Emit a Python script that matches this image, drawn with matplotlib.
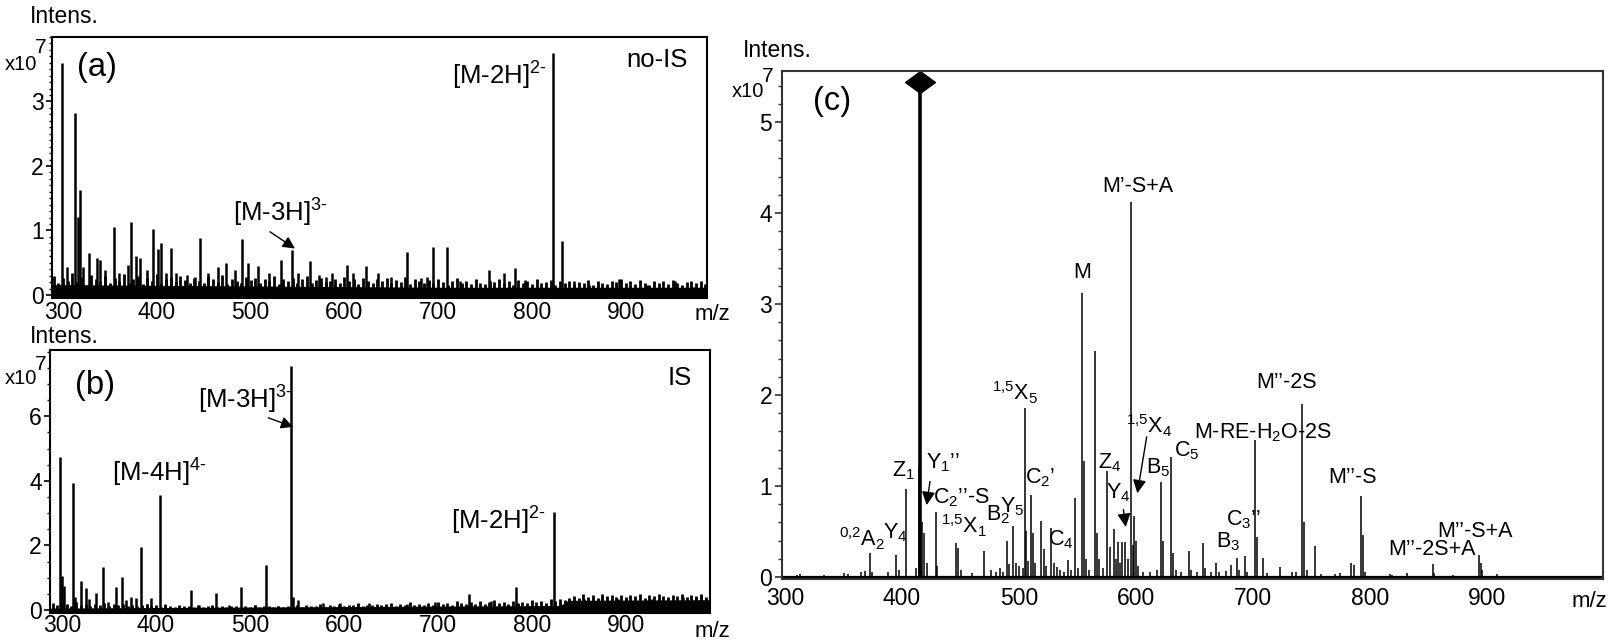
import numpy as np
import matplotlib
matplotlib.use("Agg")
import matplotlib.pyplot as plt
from matplotlib.ticker import MultipleLocator

plt.rcParams['font.family'] = ['Liberation Sans', 'DejaVu Sans']
plt.rcParams['mathtext.fontset'] = 'custom'
plt.rcParams['mathtext.rm'] = 'Liberation Sans'
plt.rcParams['mathtext.it'] = 'Liberation Sans:italic'
plt.rcParams['mathtext.bf'] = 'Liberation Sans:bold'
plt.rcParams['mathtext.default'] = 'regular'

W, H = 1615, 642

# ---- panel (a): no-IS, intensity x1e7 ----
a_mz = [298.7, 304.0, 313.0, 315.7, 318.4, 321.1, 327.4, 336.3, 339.9, 344.4,
        354.7, 360.1, 369.1, 372.7, 378.1, 382.5, 389.3, 396.5, 400.9, 404.5,
        409.9, 414.8, 420.7, 431.9, 440.9, 445.8, 454.3, 465.5, 473.6, 483.5,
        490.7, 497.0, 508.2, 519.4, 532.8, 544.0, 550.8, 563.3, 573.2, 579.9,
        586.7, 602.8, 609.1, 622.6, 636.0, 649.5, 666.5, 681.8, 687.6, 694.3,
        709.6, 723.5, 754.0, 770.6, 781.8, 793.0, 822.6, 832.5, 844.6, 860.3,
        892.6, 923.1, 952.3, 972.5]
a_int = [3.59, 0.44, 2.82, 1.21, 1.63, 0.44, 0.65, 0.57, 0.54, 0.39,
         1.05, 0.34, 0.47, 1.13, 0.60, 0.58, 0.39, 1.03, 0.71, 0.80,
         0.34, 0.73, 0.34, 0.31, 0.28, 0.89, 0.34, 0.44, 0.49, 0.39,
         0.87, 0.49, 0.45, 0.34, 0.54, 0.69, 0.34, 0.53, 0.31, 0.28,
         0.34, 0.47, 0.34, 0.45, 0.34, 0.28, 0.66, 0.26, 0.28, 0.74,
         0.74, 0.21, 0.38, 0.34, 0.42, 0.23, 3.75, 0.84, 0.21, 0.16,
         0.24, 0.16, 0.22, 0.13]
# baseline grass, one reading every 5 m/z from 290
a_noise = [.30, .18, .26, .22, .34, .20, .28, .16, .31, .24,
           .22, .30, .18, .27, .21, .33, .19, .25, .29, .17,
           .26, .21, .32, .18, .24, .28, .20, .30, .23, .19,
           .27, .22, .18, .29, .24, .20, .31, .17, .25, .22,
           .19, .28, .23, .26, .18, .24, .21, .29, .17, .25,
           .22, .27, .19, .24, .30, .18, .23, .26, .20, .22,
           .25, .18, .28, .21, .24, .17, .27, .22, .19, .25,
           .21, .26, .18, .23, .20, .28, .17, .24, .22, .19,
           .23, .18, .25, .20, .16, .22, .26, .18, .21, .17,
           .24, .19, .17, .22, .20, .25, .18, .21, .16, .23,
           .19, .22, .17, .24, .18, .20, .23, .16, .21, .19,
           .22, .17, .20, .18, .23, .16, .21, .19, .17, .22,
           .20, .24, .18, .21, .17, .23, .19, .16, .22, .18,
           .21, .17, .23, .19, .16, .20, .22, .18, .21, .17]
a_floor_mz = [286, 400, 500, 600, 700, 800, 990]
a_floor = [0.16, 0.15, 0.14, 0.13, 0.12, 0.12, 0.12]

# ---- panel (b): IS ----
b_mz = [297.5, 300.5, 302.5, 311.5, 313.5, 320.5, 325.5, 329.0, 336.6, 343.6,
        349.0, 357.0, 363.6, 368.0, 373.5, 379.0, 384.0, 390.0, 395.0, 404.0,
        410.0, 437.0, 446.0, 464.0, 478.0, 490.5, 505.0, 517.0, 530.0, 544.2,
        546.0, 551.6, 577.6, 595.5, 626.9, 667.3, 696.5, 733.7, 757.0, 783.0,
        823.4, 837.8, 855.7, 891.6, 927.5, 961.2, 974.6]
b_int = [4.75, 1.05, 0.75, 3.92, 0.40, 0.90, 0.67, 0.35, 0.52, 1.34,
         0.25, 0.72, 1.02, 0.30, 0.40, 0.38, 1.96, 0.20, 0.36, 3.55,
         0.20, 0.62, 0.15, 0.52, 0.15, 0.72, 0.15, 1.39, 0.12, 7.55,
         0.40, 0.30, 0.22, 0.22, 0.22, 0.20, 0.24, 0.50, 0.29, 0.70,
         3.02, 0.29, 0.34, 0.34, 0.34, 0.39, 0.41]
b_noise = [.22, .15, .28, .18, .12, .24, .16, .20, .13, .19,
           .15, .22, .12, .18, .14, .20, .11, .17, .13, .16,
           .18, .12, .15, .10, .16, .12, .09, .14, .11, .13,
           .10, .14, .09, .12, .15, .10, .13, .08, .12, .11,
           .09, .13, .10, .14, .08, .12, .11, .09, .13, .10,
           .12, .10, .14, .09, .16, .11, .13, .18, .10, .15,
           .13, .19, .11, .16, .14, .21, .12, .17, .15, .20,
           .14, .18, .22, .13, .19, .16, .24, .15, .20, .17,
           .22, .16, .26, .19, .23, .17, .28, .21, .18, .25,
           .20, .27, .18, .24, .30, .21, .26, .19, .29, .23,
           .26, .21, .30, .24, .28, .22, .33, .27, .35, .30,
           .38, .44, .36, .48, .40, .45, .37, .50, .42, .46,
           .41, .47, .39, .45, .43, .49, .38, .46, .42, .48,
           .44, .39, .47, .42, .50, .40, .46, .43, .48, .41]
b_floor_mz = [286, 560, 830, 840, 992]
b_floor = [0.06, 0.10, 0.14, 0.30, 0.32]

# ---- panel (c): MS/MS ----
c_mz = [310, 313, 333, 350, 354, 365, 368, 372.4, 374, 388,
        395.2, 397, 403.4, 412, 414.3, 415.4, 417, 418.5, 421, 428.8,
        430, 446.2, 447.9, 450, 460, 470.1, 476, 480, 484, 486,
        489.7, 491.5, 494.9, 497, 500, 503, 504.9, 506, 508, 510.5,
        512, 514, 519, 521, 523, 527.6, 529.5, 532.4, 535, 538,
        541.9, 544, 548.1, 550, 553.8, 555.4, 557, 560, 564.7, 566.7,
        568, 572, 575.5, 577.5, 580.9, 582.5, 584.6, 586, 588, 590.9,
        593, 595.4, 597, 598.6, 600, 602, 606, 612, 618, 621.4,
        623, 629.9, 631.5, 634, 638, 645, 647, 652, 657, 659,
        664, 668.4, 671, 677, 681, 686, 688, 693.2, 695, 701.7,
        703.4, 708.3, 712, 723, 733, 737, 742.1, 743.6, 746, 753,
        758, 770, 774, 783.5, 786, 792, 793.6, 796, 817, 819,
        832, 853.6, 855, 871, 892.9, 894.6, 896, 908.8, 930, 950]
c_int = [0.02, 0.03, 0.02, 0.04, 0.03, 0.05, 0.07, 0.26, 0.06, 0.05,
         0.245, 0.08, 0.97, 0.10, 1.21, 5.44, 0.60, 0.48, 0.15, 0.71,
         0.12, 0.37, 0.32, 0.08, 0.04, 0.29, 0.08, 0.05, 0.10, 0.06,
         0.40, 0.14, 0.56, 0.15, 0.12, 0.10, 1.86, 0.50, 0.18, 0.90,
         0.48, 0.15, 0.62, 0.31, 0.12, 0.54, 0.15, 0.11, 0.08, 0.06,
         0.19, 0.08, 0.87, 0.10, 3.12, 1.28, 0.20, 0.08, 2.48, 0.48,
         0.20, 0.10, 1.17, 0.33, 0.53, 0.20, 0.38, 0.15, 0.38, 0.39,
         0.20, 4.12, 0.35, 0.67, 0.40, 0.12, 0.06, 0.05, 0.08, 1.04,
         0.40, 1.32, 0.26, 0.08, 0.05, 0.29, 0.08, 0.05, 0.37, 0.10,
         0.06, 0.15, 0.05, 0.07, 0.13, 0.21, 0.08, 0.23, 0.06, 1.50,
         0.44, 0.21, 0.04, 0.11, 0.05, 0.05, 1.90, 0.60, 0.08, 0.34,
         0.03, 0.03, 0.04, 0.15, 0.13, 0.89, 0.46, 0.05, 0.03, 0.02,
         0.04, 0.14, 0.04, 0.02, 0.24, 0.15, 0.08, 0.03, 0.01, 0.01]
precursor_mz = 415.4

c_labels = [r"$^{\text{0,2}}$A$_2$", "Y$_4$", "Z$_1$", "Y$_1$’’", "C$_2$’’-S",
            r"$^{\text{1,5}}$X$_1$", "B$_2$", "Y$_5$", r"$^{\text{1,5}}$X$_5$", "C$_2$’",
            "C$_4$", "M", "Z$_4$", "Y$_4$", r"$^{\text{1,5}}$X$_4$", "M’-S+A", "B$_5$",
            "C$_5$", "B$_3$", "C$_3$’’", "M-RE-H$_2$O-2S", "M’’-2S", "M’’-S",
            "M’’-2S+A", "M’’-S+A"]
c_label_mz = [366.0, 394.5, 401.5, 435.0, 450.5, 453.0,
              481.9, 494.0, 496.6, 518.2, 536.0, 553.8, 577.0, 584.9,
              611.3, 601.7, 619.0, 643.2, 679.0, 691.5,
              708.1, 728.8, 785.0, 853.0, 889.7]
c_label_y = [0.333, 0.425, 1.10, 1.19, 0.81, 0.48,
             0.626, 0.71, 1.945, 1.03, 0.35, 3.28, 1.19, 0.865,
             1.58, 4.23, 1.14, 1.32, 0.33, 0.57,
             1.52, 2.08, 1.03, 0.24, 0.443]

fig = plt.figure(figsize=(W / 100, H / 100), dpi=100)


def px_axes(l, t, r, b):
    return fig.add_axes([l / W, 1 - b / H, (r - l) / W, (b - t) / H])


def ftext(x, y, s, **kw):
    fig.text(x / W, 1 - y / H, s, va='baseline', ha='left', **kw)


def style(ax, yticks, yminor, xpad, ylen, color='black'):
    ax.set_xticks(range(300, 1000, 100))
    ax.set_yticks(yticks)
    ax.yaxis.set_minor_locator(MultipleLocator(yminor))
    ax.xaxis.set_minor_locator(plt.NullLocator())
    ax.tick_params(axis='x', length=0, labelsize=16.5, pad=xpad)
    ax.tick_params(axis='y', which='major', length=ylen, width=1.2,
                   labelsize=16.5, pad=2, color=color)
    ax.tick_params(axis='y', which='minor', length=ylen * 0.55, width=1.0, color=color)
    for sp in ax.spines.values():
        sp.set_linewidth(1.5)
        sp.set_color(color)


arrow = dict(arrowstyle='-|>', color='black', lw=1.0, mutation_scale=18,
             shrinkA=0, shrinkB=0)
sup2 = r'$^{2\text{-}}$'
sup3 = r'$^{3\text{-}}$'
sup4 = r'$^{4\text{-}}$'

# (a)
ax_a = px_axes(52, 37, 707, 298)
ax_a.set_xlim(288.3, 986.6)
ax_a.set_ylim(-0.047, 4.0)
grid_a = np.arange(290, 290 + 5 * len(a_noise), 5)
ax_a.fill_between(a_floor_mz, -0.2, a_floor, color='black', lw=0)
ax_a.vlines(grid_a, -0.2, a_noise, color='black', lw=2.0)
ax_a.vlines(a_mz, 0, a_int, color='black', lw=1.8)
style(ax_a, [0, 1, 2, 3], 0.1, 2, 4)
ax_a.text(816, 3.26, '[M-2H]' + sup2, ha='right', va='baseline', fontsize=18.5)
ax_a.text(966.3, 3.54, 'no-IS', ha='right', va='baseline', fontsize=18.5)
ax_a.text(531.3, 1.14, '[M-3H]' + sup3, ha='center', va='baseline', fontsize=18.5)
ax_a.annotate('', xy=(547.3, 0.72), xytext=(520.7, 0.98), arrowprops=arrow)
ax_a.text(336.2, 3.53, '(a)', ha='center', va='center', fontsize=23.5)

# (b)
ax_b = px_axes(50, 350, 710, 613)
ax_b.set_xlim(287.2, 989.7)
ax_b.set_ylim(-0.093, 8.05)
grid_b = np.arange(290, 290 + 5 * len(b_noise), 5)
ax_b.fill_between(b_floor_mz, -0.3, b_floor, color='black', lw=0)
ax_b.vlines(grid_b, -0.3, b_noise, color='black', lw=2.0)
ax_b.vlines(b_mz, 0, b_int, color='black', lw=1.8)
style(ax_b, [0, 2, 4, 6], 0.5, 1, 4)
ax_b.text(545.7, 6.24, '[M-3H]' + sup3, ha='right', va='baseline', fontsize=18.5)
ax_b.annotate('', xy=(546.0, 5.67), xytext=(519.5, 5.95), arrowprops=arrow)
ax_b.text(453.9, 3.97, '[M-4H]' + sup4, ha='right', va='baseline', fontsize=18.5)
ax_b.text(814.6, 2.50, '[M-2H]' + sup2, ha='right', va='baseline', fontsize=18.5)
ax_b.text(970.5, 6.97, 'IS', ha='right', va='baseline', fontsize=18.5)
ax_b.text(335, 6.94, '(b)', ha='center', va='center', fontsize=23.5)

# (c)
ax_c = px_axes(782, 71, 1603, 579)
ax_c.set_xlim(297.4, 999.1)
ax_c.set_ylim(-0.022, 5.56)
ax_c.axhline(0, color='black', lw=1.6)
ax_c.vlines(c_mz, 0, c_int, color='black', lw=1.1)
i_pre = c_mz.index(precursor_mz)
ax_c.vlines([c_mz[i_pre]], 0, [c_int[i_pre]], color='black', lw=2.6)
diamond = [(-1, 0), (0, 0.73), (1, 0), (0, -0.73), (-1, 0)]
ax_c.plot([c_mz[i_pre]], [c_int[i_pre]], marker=diamond, ms=21.5,
          color='black', clip_on=False)
style(ax_c, [0, 1, 2, 3, 4, 5], 0.2, 6, 5, color='#333333')
for s, x, y in zip(c_labels, c_label_mz, c_label_y):
    ax_c.text(x, y, s, ha='center', va='baseline', fontsize=15.5)
arrow_c = dict(arrow, mutation_scale=20)
ax_c.annotate('', xy=(421.0, 0.79), xytext=(423.9, 1.05), arrowprops=arrow_c)
ax_c.annotate('', xy=(591.2, 0.55), xytext=(589.2, 0.74), arrowprops=arrow_c)
ax_c.annotate('', xy=(601.1, 0.92), xytext=(609.1, 1.54), arrowprops=arrow_c)
ax_c.text(340, 5.22, '(c)', ha='center', va='center', fontsize=23.5)

# axis captions in the Bruker style
for x, y in [(30, 23.3), (30, 343), (743, 56.7)]:
    ftext(x, y, 'Intens.', fontsize=16.5)
for x, y, x7, y7 in [(5, 70, 35, 53.3), (5, 384, 35, 370), (732, 96.7, 762, 81.7)]:
    ftext(x, y, 'x10', fontsize=14.5)
    ftext(x7, y7, '7', fontsize=15)
for x, y in [(695, 320), (695, 636.7), (1572, 606.7)]:
    ftext(x, y, 'm/z', fontsize=16)

fig.savefig('out.png', dpi=100)
